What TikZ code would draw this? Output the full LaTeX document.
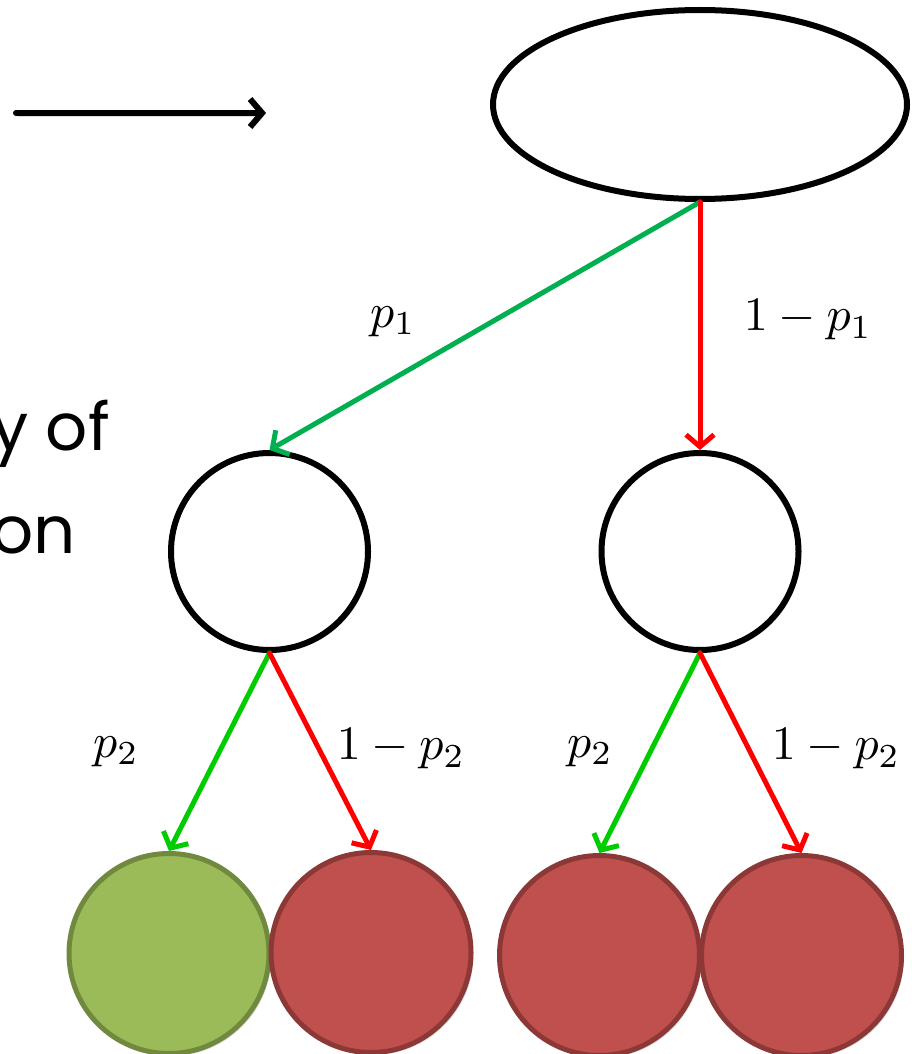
\documentclass[tikz,border=0pt]{standalone}
\usepackage{graphicx}
\usepackage{fontspec}
\newfontfamily\txtfont{Poppins}
\usetikzlibrary{arrows.meta,shapes.geometric,shadows}
\definecolor{ogreen}{HTML}{00B050}
\definecolor{bgreen}{HTML}{00CC00}
\definecolor{brred}{HTML}{FF0000}
\definecolor{leaffill}{HTML}{9BBB59}
\definecolor{leafline}{HTML}{71893F}
\definecolor{redfill}{HTML}{C0504D}
\definecolor{redline}{HTML}{8C3836}
\newcommand{\probmath}[1]{\scalebox{4.8}{\normalsize$#1$}}
\begin{document}
\begin{tikzpicture}[x=1pt,y=-1pt,
  shad/.style={drop shadow={opacity=0.25,shadow xshift=2.5pt,shadow yshift=-2.5pt}},
  rootnode/.style={ellipse,draw=black,fill=white,line width=6pt,inner sep=0pt,minimum width=414pt,minimum height=189pt,shad},
  midnode/.style={circle,draw=black,fill=white,line width=6pt,inner sep=0pt,minimum size=197pt,shad},
  goodleaf/.style={circle,draw=leafline,fill=leaffill,line width=5pt,inner sep=0pt,minimum size=200pt,shad},
  badleaf/.style={circle,draw=redline,fill=redfill,line width=5pt,inner sep=0pt,minimum size=200pt,shad},
  arr/.style={line width=5pt,line cap=round,-{Straight Barb[length=12pt,width=28pt]}},
  plabel/.style={inner sep=0pt},
  bigtext/.style={font=\txtfont\fontsize{66}{78}\selectfont,inner sep=0pt,anchor=base east}
]
\useasboundingbox (0,0) rectangle (912,1054);

% top-left arrow
\coordinate (a0) at (16,113);
\coordinate (a1) at (266,113);
\draw[line width=6pt,line cap=round,-{Straight Barb[length=12pt,width=28pt]},
      preaction={draw=black!35,opacity=0.4,transform canvas={xshift=2pt,yshift=-3pt}}] (a0) -- (a1);

% text fragments
\node[bigtext] (t1) at (110,450) {y of};
\node[bigtext] (t2) at (76,553) {on};

% nodes
\node[rootnode] (root) at (700,104.5) {};
\node[midnode] (L) at (269.5,551.5) {};
\node[midnode] (R) at (700,551.5) {};
\node[goodleaf] (LL) at (169,953.5) {};
\node[badleaf] (LR) at (371,952.5) {};
\node[badleaf] (RL) at (599.5,955.5) {};
\node[badleaf] (RR) at (801.5,955.5) {};

% connectors
\draw[arr,draw=ogreen] (root.south) -- (L.north);
\draw[arr,draw=brred] (root.south) -- (R.north);
\draw[arr,draw=bgreen] (L.south) -- (LL.north);
\draw[arr,draw=brred] (L.south) -- (LR.north);
\draw[arr,draw=bgreen] (R.south) -- (RL.north);
\draw[arr,draw=brred] (R.south) -- (RR.north);

% labels
\node[plabel] (l1) at (393,322) {\probmath{p_1}};
\node[plabel] (l2) at (808,320) {\probmath{1-p_1}};
\node[plabel] (l3) at (116,752) {\probmath{p_2}};
\node[plabel] (l4) at (401,749) {\probmath{1-p_2}};
\node[plabel] (l5) at (590,752) {\probmath{p_2}};
\node[plabel] (l6) at (836,749) {\probmath{1-p_2}};
\end{tikzpicture}
\end{document}
